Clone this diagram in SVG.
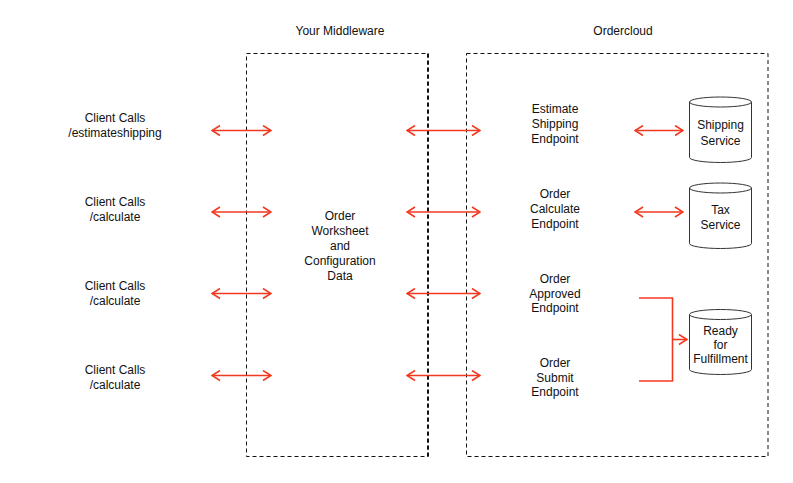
<svg xmlns="http://www.w3.org/2000/svg" width="793" height="483" viewBox="0 0 793 483">
<style>
text{font-family:"Liberation Sans",Arial,sans-serif;font-size:12px;fill:#111;text-anchor:middle}
.box{fill:none;stroke:#111;stroke-width:1;stroke-dasharray:4 3}
.cyl{fill:#fff;stroke:#333;stroke-width:1}
.arr{fill:none;stroke:#f2381f;stroke-width:1.6}
</style>
<defs>
<marker id="ah" viewBox="0 0 10 12" refX="9" refY="6" markerWidth="10" markerHeight="12" markerUnits="userSpaceOnUse" orient="auto-start-reverse">
<path d="M1,1 L9,6 L1,11" fill="none" stroke="#f2381f" stroke-width="1.6"/>
</marker>
</defs>
<rect width="793" height="483" fill="#fff"/>
<g id="middleware">
<rect class="box" x="246.5" y="53.5" width="181.5" height="403"/>
<line x1="428" y1="53.5" x2="428" y2="456.5" stroke="#111" stroke-width="2" stroke-dasharray="4 3"/>
<text x="340" y="35">Your Middleware</text>
<text x="340" y="220">Order</text>
<text x="340" y="235">Worksheet</text>
<text x="340" y="250">and</text>
<text x="340" y="265">Configuration</text>
<text x="340" y="280">Data</text>
</g>
<g id="ordercloud">
<rect class="box" x="466.5" y="53.5" width="301.5" height="403"/>
<text x="623" y="35">Ordercloud</text>
</g>
<g id="client1"><text x="115" y="122">Client Calls</text><text x="115" y="137">/estimateshipping</text></g>
<g id="client2"><text x="115" y="206">Client Calls</text><text x="115" y="221">/calculate</text></g>
<g id="client3"><text x="115" y="290">Client Calls</text><text x="115" y="305">/calculate</text></g>
<g id="client4"><text x="115" y="374">Client Calls</text><text x="115" y="389">/calculate</text></g>
<g id="ep-shipping"><text x="555" y="113">Estimate</text><text x="555" y="128">Shipping</text><text x="555" y="143">Endpoint</text></g>
<g id="ep-calc"><text x="555" y="198">Order</text><text x="555" y="213">Calculate</text><text x="555" y="228">Endpoint</text></g>
<g id="ep-approved"><text x="555" y="283">Order</text><text x="555" y="298">Approved</text><text x="555" y="312">Endpoint</text></g>
<g id="ep-submit"><text x="555" y="367">Order</text><text x="555" y="382">Submit</text><text x="555" y="396">Endpoint</text></g>
<g id="shipping-service">
<path class="cyl" d="M689.5,102 L689.5,157.5 A31,5 0 0 0 751.5,157.5 L751.5,102"/>
<ellipse class="cyl" cx="720.5" cy="102" rx="31" ry="5"/>
<text x="720.5" y="129">Shipping</text><text x="720.5" y="145">Service</text>
</g>
<g id="tax-service">
<path class="cyl" d="M689.5,188 L689.5,243.5 A31,5 0 0 0 751.5,243.5 L751.5,188"/>
<ellipse class="cyl" cx="720.5" cy="188" rx="31" ry="5"/>
<text x="720.5" y="214">Tax</text><text x="720.5" y="229">Service</text>
</g>
<g id="ready">
<path class="cyl" d="M689.5,314.5 L689.5,369.5 A31,5 0 0 0 751.5,369.5 L751.5,314.5"/>
<ellipse class="cyl" cx="720.5" cy="314.5" rx="31" ry="5"/>
<text x="720.5" y="335">Ready</text><text x="720.5" y="349">for</text><text x="720.5" y="363">Fulfillment</text>
</g>
<g id="connectors">
<line class="arr" x1="212" y1="130.5" x2="271" y2="130.5" marker-start="url(#ah)" marker-end="url(#ah)"/>
<line class="arr" x1="212" y1="212" x2="271" y2="212" marker-start="url(#ah)" marker-end="url(#ah)"/>
<line class="arr" x1="212" y1="293.5" x2="271" y2="293.5" marker-start="url(#ah)" marker-end="url(#ah)"/>
<line class="arr" x1="212" y1="375.5" x2="271" y2="375.5" marker-start="url(#ah)" marker-end="url(#ah)"/>
<line class="arr" x1="407" y1="130.5" x2="480" y2="130.5" marker-start="url(#ah)" marker-end="url(#ah)"/>
<line class="arr" x1="407" y1="212" x2="480" y2="212" marker-start="url(#ah)" marker-end="url(#ah)"/>
<line class="arr" x1="407" y1="293.5" x2="480" y2="293.5" marker-start="url(#ah)" marker-end="url(#ah)"/>
<line class="arr" x1="407" y1="375.5" x2="480" y2="375.5" marker-start="url(#ah)" marker-end="url(#ah)"/>
<line class="arr" x1="635" y1="130.5" x2="683" y2="130.5" marker-start="url(#ah)" marker-end="url(#ah)"/>
<line class="arr" x1="635" y1="212" x2="683" y2="212" marker-start="url(#ah)" marker-end="url(#ah)"/>
<path class="arr" d="M639,298 L672.5,298 L672.5,381 L639,381"/>
<line class="arr" x1="672.5" y1="339.5" x2="687" y2="339.5" marker-end="url(#ah)"/>
</g>
</svg>
